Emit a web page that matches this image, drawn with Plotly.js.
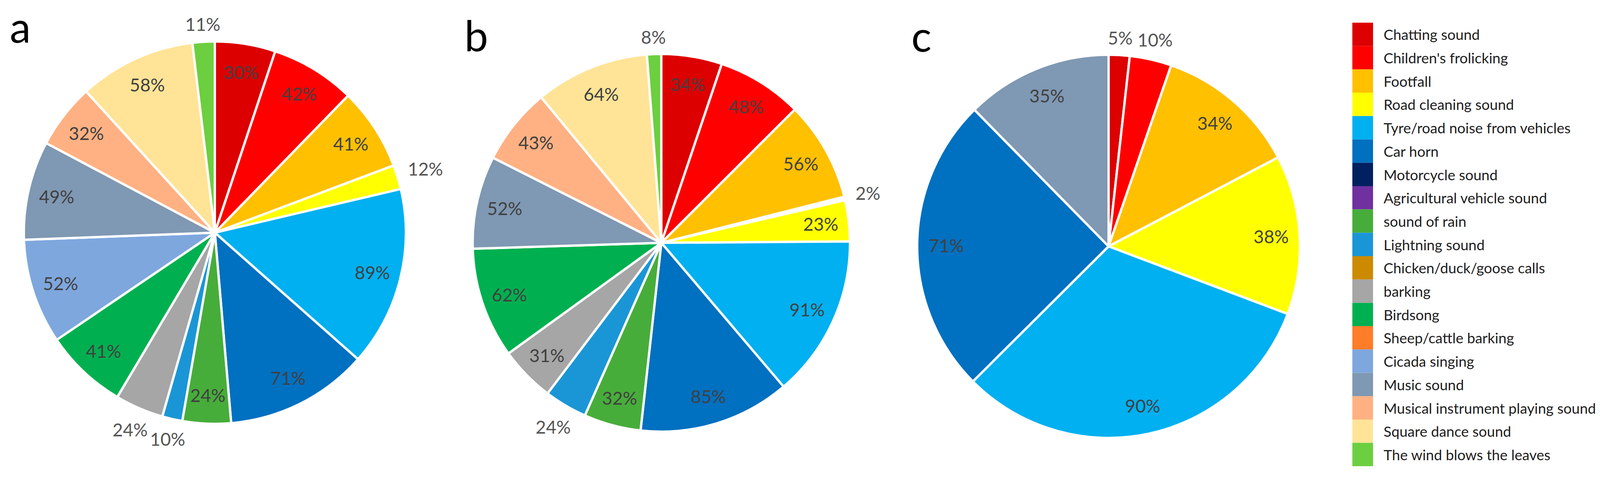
<!DOCTYPE html>
<html><head><meta charset="utf-8">
<script src="https://cdn.plot.ly/plotly-3.0.1.min.js"></script>
<style>html,body{margin:0;padding:0;background:#fff}#chart{width:4175px;height:1225px}</style>
</head><body><div id="chart"></div>
<script>
// ---- data ----
const categories = [
  'Chatting sound', "Children's frolicking", 'Footfall', 'Road cleaning sound',
  'Tyre/road noise from vehicles', 'Car horn', 'Motorcycle sound', 'Agricultural vehicle sound',
  'sound of rain', 'Lightning sound', 'Chicken/duck/goose calls', 'barking', 'Birdsong',
  'Sheep/cattle barking', 'Cicada singing', 'Music sound', 'Musical instrument playing sound',
  'Square dance sound', 'The wind blows the leaves'
];
const colors = [
  '#DC0000', '#FF0000', '#FFC000', '#FFFF00',
  '#00B0F0', '#0070C0', '#002060', '#7030A0',
  '#47AD3A', '#1A96D6', '#CC8A00', '#A6A6A6', '#00B050',
  '#FF7C28', '#7EA7DE', '#7F98B3', '#FFB183',
  '#FFE497', '#6CCF3F'
];
const valuesA = [30, 42, 41, 12, 89, 71, 0, 0, 24, 10, 0, 24, 41, 0, 52, 49, 32, 58, 11];
const valuesB = [34, 48, 56, 23, 91, 85, 0, 0, 32, 24, 0, 31, 62, 0, 0, 52, 43, 64, 8];
const valuesC = [5, 10, 34, 38, 90, 71, 0, 0, 0, 0, 0, 0, 0, 0, 0, 35, 0, 0, 0];
// an unlabeled 2% point that panel b shows between Footfall and Road cleaning
const unlabeledB = { after: 'Footfall', value: 2 };
const panelLetters = ['a', 'b', 'c'];

// ---- label placement (style) ----
const outsideA = ['Road cleaning sound', 'Lightning sound', 'barking', 'The wind blows the leaves'];
const outsideB = ['Lightning sound', 'The wind blows the leaves', 'unlabeled'];
const outsideC = ['Chatting sound', "Children's frolicking"];

const W = 4175, H = 1225;
const FONT = 'Lato, "Open Sans", sans-serif';
const LABEL_FS = 46, IN_COLOR = '#404040', OUT_COLOR = '#555555';
const annotations = [], shapes = [];

function dom(cx, cy, r) {
  return { x: [(cx - r) / W, (cx + r) / W], y: [(H - cy - r) / H, (H - cy + r) / H] };
}
function textW(s, fs) {
  let w = 0;
  for (const ch of s) w += (ch === '%' ? 0.81 : 0.58) * fs;
  return w;
}

function buildPie(vals, outside, cx, cy, r, extra) {
  const labels = [], values = [], cols = [], text = [], isOut = [], lineW = [];
  categories.forEach((c, i) => {
    if (vals[i] > 0) {
      labels.push(c); values.push(vals[i]); cols.push(colors[i]); lineW.push(6);
      text.push(vals[i] + '%'); isOut.push(outside.includes(c));
    }
    if (extra && extra.after === c) {
      labels.push('unlabeled'); values.push(extra.value); cols.push('#ffffff'); lineW.push(0);
      text.push(extra.value + '%'); isOut.push(outside.includes('unlabeled'));
    }
  });
  // data labels, placed at each slice's mid angle (clockwise from 12 o'clock)
  const total = values.reduce((a, b) => a + b, 0);
  let cum = 0;
  values.forEach((v, k) => {
    const mid = (cum + v / 2) / total * 2 * Math.PI; cum += v;
    const s = Math.sin(mid), c = Math.cos(mid);
    let d;
    if (isOut[k]) {
      const w = textW(text[k], LABEL_FS), h = 0.72 * LABEL_FS;
      d = r + 26 + Math.abs(s) * w / 2 + Math.abs(c) * h / 2;
    } else {
      d = 0.85 * r;
    }
    const x = cx + d * s, y = cy - d * c;
    annotations.push({ xref: 'paper', yref: 'paper', x: x / W, y: 1 - y / H,
      xanchor: 'center', yanchor: 'middle', text: text[k], showarrow: false,
      font: { family: FONT, size: LABEL_FS, color: isOut[k] ? OUT_COLOR : IN_COLOR } });
  });
  return {
    type: 'pie', labels, values, textinfo: 'none',
    sort: false, direction: 'clockwise', rotation: 0,
    marker: { colors: cols, line: { color: '#ffffff', width: lineW } },
    domain: dom(cx, cy, r), showlegend: false, hoverinfo: 'none'
  };
}

const traces = [
  buildPie(valuesA, outsideA, 550, 595, 489),
  buildPie(valuesB, outsideB, 1693, 621, 483, unlabeledB),
  buildPie(valuesC, outsideC, 2838, 630, 490)
];

// legend drawn as swatches + text
const LX0 = 3462, LX1 = 3515, LY0 = 58, ROW = 59.7, TX = 3540;
categories.forEach((c, i) => {
  const y0 = LY0 + i * ROW, y1 = y0 + ROW;
  shapes.push({ type: 'rect', xref: 'paper', yref: 'paper', x0: LX0 / W, x1: LX1 / W,
    y0: 1 - y1 / H, y1: 1 - y0 / H, fillcolor: colors[i], line: { width: 0 } });
  annotations.push({ xref: 'paper', yref: 'paper', x: TX / W, y: 1 - (y0 + ROW / 2) / H,
    xanchor: 'left', yanchor: 'middle', text: c, showarrow: false,
    font: { family: FONT, size: 37, color: '#1e1e1e' } });
});
const letterPos = [[23, 0], [1187, 22], [2331, 23]];
panelLetters.forEach((t, i) => {
  annotations.push({ xref: 'paper', yref: 'paper', x: letterPos[i][0] / W, y: 1 - letterPos[i][1] / H,
    xanchor: 'left', yanchor: 'top', text: t, showarrow: false,
    font: { family: FONT, size: 108, color: '#000000' } });
});

Plotly.newPlot('chart', traces, {
  width: W, height: H, margin: { l: 0, r: 0, t: 0, b: 0 },
  paper_bgcolor: '#ffffff', plot_bgcolor: '#ffffff', showlegend: false,
  shapes, annotations
}, { staticPlot: true });
</script></body></html>
